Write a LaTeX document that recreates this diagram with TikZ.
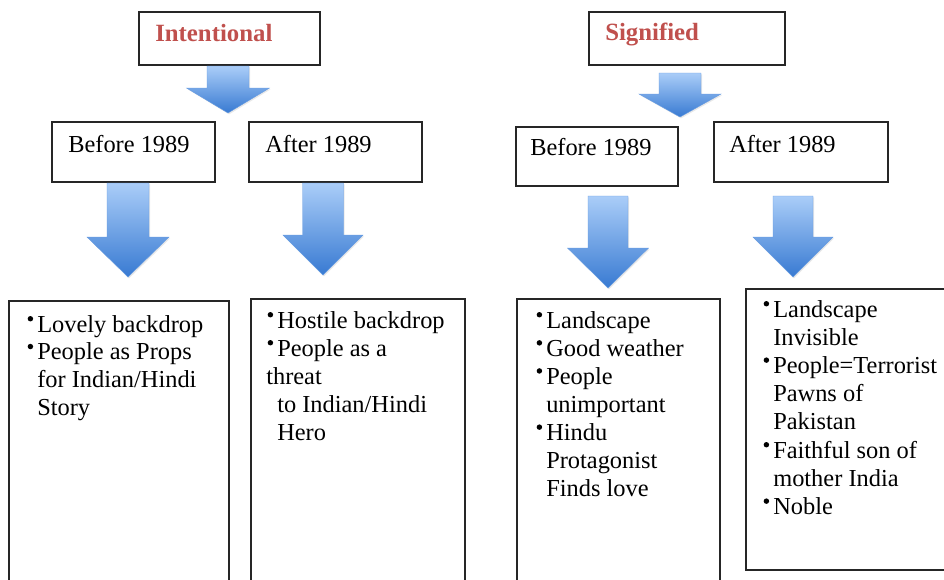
\documentclass[tikz,border=0pt]{standalone}
\usepackage{fontspec}
\setmainfont{Liberation Serif}
\usetikzlibrary{shadows}
\definecolor{titlered}{HTML}{C0504D}
\definecolor{arrtop}{RGB}{170,205,248}
\definecolor{arrbot}{RGB}{56,122,210}
\newcommand\bul{\makebox[7.5pt][l]{\hspace*{0.3pt}\raisebox{7.9pt}{\tikz\fill (0,0) circle (2.05pt);}}}
\newcommand\boxnode[5]{\node[box, minimum width={(#4-#2)*0.75pt}, minimum height={(#5-#3)*0.75pt}] (#1) at ({(#2+#4)/2},{(#3+#5)/2}) {};}
% cx, top, headtop, tip, shaft half width, head half width
\newcommand\barrow[6]{\path[blockarrow] (#1-#5,#2) -- (#1+#5,#2) -- (#1+#5,#3) -- (#1+#6,#3) -- (#1,#4) -- (#1-#6,#3) -- (#1-#5,#3) -- cycle;}
\begin{document}
\begin{tikzpicture}[x=0.75pt,y=-0.75pt,
  box/.style={draw=black!85, line width=1.2pt, fill=white, inner sep=0pt, outer sep=0pt},
  txt/.style={anchor=base west, inner sep=0pt, font=\fontsize{18.3pt}{21pt}\selectfont},
  ttl/.style={anchor=base west, inner sep=0pt, text=titlered, font=\fontsize{18.6pt}{21pt}\selectfont\bfseries},
  blockarrow/.style={top color=arrtop, bottom color=arrbot, draw=arrbot!60!arrtop, line width=0.3pt,
    drop shadow={opacity=0.18, shadow xshift=0.8pt, shadow yshift=-1pt}}]
\useasboundingbox (0,0) rectangle (944,579);
\clip (0,0) rectangle (944,579);
\fill[white] (0,0) rectangle (944,579);
% title boxes
\boxnode{int}{139}{12}{320}{65}
\boxnode{sig}{589}{12}{785}{65}
\node[ttl] (intt) at (155,41) {Intentional};
\node[ttl] (sigt) at (605,40) {Signified};
% period boxes
\boxnode{b1}{52}{122}{215}{182}
\boxnode{a1}{249}{122}{422}{182}
\boxnode{b2}{516}{127}{678}{186}
\boxnode{a2}{714}{122}{888}{182}
\node[txt] (b1t) at (68,152) {Before 1989};
\node[txt] (a1t) at (265,152) {After 1989};
\node[txt] (b2t) at (530,155) {Before 1989};
\node[txt] (a2t) at (729,152) {After 1989};
% content boxes
\boxnode{c1}{9}{301}{229}{600}
\boxnode{c2}{251}{299}{465}{600}
\boxnode{c3}{517}{299}{720}{600}
\boxnode{c4}{746}{289}{965}{570}
% arrows
\barrow{228}{66}{88}{113}{21}{41.5}
\barrow{128}{183}{237}{277}{21}{41}
\barrow{323}{183}{235}{275}{20.5}{40}
\barrow{680}{73}{94}{117}{21}{41}
\barrow{608}{196}{248}{288}{20}{40.5}
\barrow{793}{196}{237}{277}{20}{40}
% texts
\foreach \x/\t [count=\i] in {27/{\bul Lovely backdrop},27/{\bul People as Props},37/{for Indian/Hindi},37/{Story}}
  \node[txt] (p1-\i) at (\x,{332+27.8*(\i-1)}) {\t};
\foreach \x/\t [count=\i] in {267/{\bul Hostile backdrop},267/{\bul People as a},266/{threat},277/{to Indian/Hindi},277/{Hero}}
  \node[txt] (p2-\i) at (\x,{328+28*(\i-1)}) {\t};
\foreach \x/\t [count=\i] in {536/{\bul Landscape},536/{\bul Good weather},536/{\bul People},546/{unimportant},536/{\bul Hindu},546/{Protagonist},546/{Finds love}}
  \node[txt] (p3-\i) at (\x,{328+28.1*(\i-1)}) {\t};
\foreach \x/\t [count=\i] in {763/{\bul Landscape},773/{Invisible},763/{\bul People=Terrorist},773/{Pawns of},773/{Pakistan},763/{\bul Faithful son of},773/{mother India},763/{\bul Noble}}
  \node[txt] (p4-\i) at (\x,{317+28.2*(\i-1)}) {\t};
\end{tikzpicture}
\end{document}
